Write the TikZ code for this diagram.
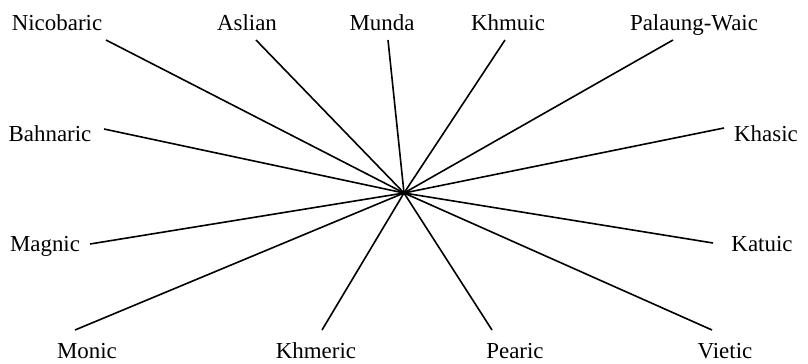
\documentclass[tikz,border=0pt]{standalone}
\usepackage{fontspec}
\setmainfont{Liberation Serif}
\begin{document}
\begin{tikzpicture}[x=1bp,y=-1bp,
  lab/.style={anchor=base,inner sep=0pt,font=\fontsize{23}{27}\selectfont},
  spoke/.style={line width=1.6bp,black}]
\useasboundingbox (0,0) rectangle (808,363);
\coordinate (c) at (404,193);
% labels
\node[lab] (nic) at (57,30) {Nicobaric};
\node[lab] (asl) at (247,30) {Aslian};
\node[lab] (mun) at (382,30) {Munda};
\node[lab] (khm) at (508,30) {Khmuic};
\node[lab] (pal) at (694,30) {Palaung-Waic};
\node[lab] (bah) at (50,141) {Bahnaric};
\node[lab] (kha) at (766,141) {Khasic};
\node[lab] (mag) at (45,251) {Magnic};
\node[lab] (kat) at (762,251) {Katuic};
\node[lab] (mon) at (87,358) {Monic};
\node[lab] (kme) at (316,358) {Khmeric};
\node[lab] (pea) at (515,358) {Pearic};
\node[lab] (vie) at (725,358) {Vietic};
% line ends
\coordinate (nicE) at (106,40);
\coordinate (aslE) at (256,40);
\coordinate (munE) at (388,40);
\coordinate (khmE) at (505,40);
\coordinate (palE) at (673,40);
\coordinate (bahE) at (104,129);
\coordinate (khaE) at (724,128);
\coordinate (magE) at (90,244);
\coordinate (katE) at (713,243);
\coordinate (monE) at (75,330);
\coordinate (kmeE) at (322,330);
\coordinate (peaE) at (492,330);
\coordinate (vieE) at (712,330);
\foreach \e in {nicE,aslE,munE,khmE,palE,bahE,khaE,magE,katE,monE,kmeE,peaE,vieE}
  \draw[spoke] (c) -- (\e);
\end{tikzpicture}
\end{document}
